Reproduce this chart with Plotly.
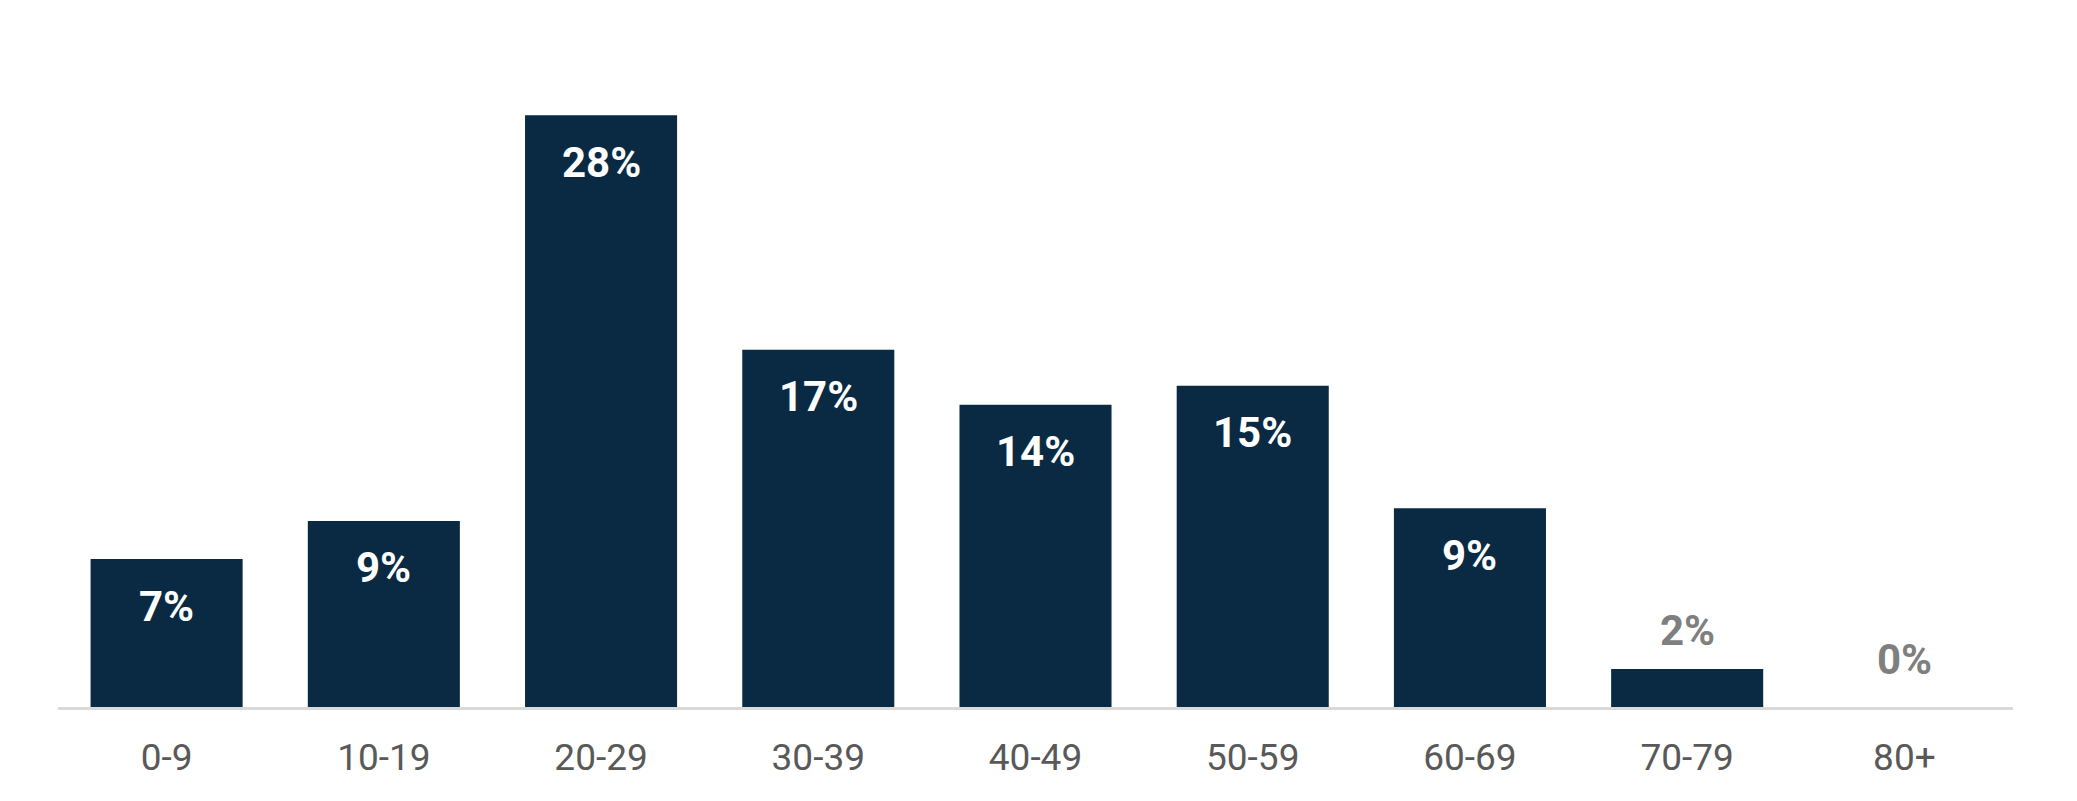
import plotly.graph_objects as go

# Age groups and share of cases (%)
age_groups = ["0-9", "10-19", "20-29", "30-39", "40-49", "50-59", "60-69", "70-79", "80+"]
shares = [7.0, 8.8, 28.0, 16.9, 14.3, 15.2, 9.4, 1.8, 0.0]
share_labels = ["7%", "9%", "28%", "17%", "14%", "15%", "9%", "2%", "0%"]

BAR_COLOR = "#0a2a44"
FONT = "Roboto, sans-serif"

fig = go.Figure()
fig.add_trace(go.Bar(x=age_groups, y=shares, marker=dict(color=BAR_COLOR, line=dict(width=0)),
                     width=0.7, hoverinfo="skip"))

# labels: inside the bar for big values, above it for small ones
for grp, val, lab in zip(age_groups, shares, share_labels):
    if val >= 5:
        fig.add_annotation(x=grp, y=val, text=lab, showarrow=False, yanchor="middle", yshift=-47,
                           font=dict(family=FONT, size=42, color="white", weight="bold"))
    else:
        fig.add_annotation(x=grp, y=val, text=lab, showarrow=False, yanchor="middle",
                           yshift=38 if val > 0 else 48,
                           font=dict(family=FONT, size=42, color="#7f7f7f", weight="bold"))

# page body has an 8px margin, so the figure is a bit smaller than the window
fig.update_layout(
    width=2069, height=793,
    margin=dict(l=50, r=64, t=0, b=94),
    plot_bgcolor="white", paper_bgcolor="white",
    showlegend=False,
    font=dict(family=FONT),
)
fig.update_xaxes(range=[-0.5, 8.5], showline=True, linecolor="#d9d9d9", linewidth=3,
                 ticks="", ticklabelstandoff=16, showgrid=False,
                 tickfont=dict(family=FONT, size=37, color="#595959"))
fig.update_yaxes(range=[0, 33.07], visible=False, showgrid=False, zeroline=False)

fig.write_html("out.html")
